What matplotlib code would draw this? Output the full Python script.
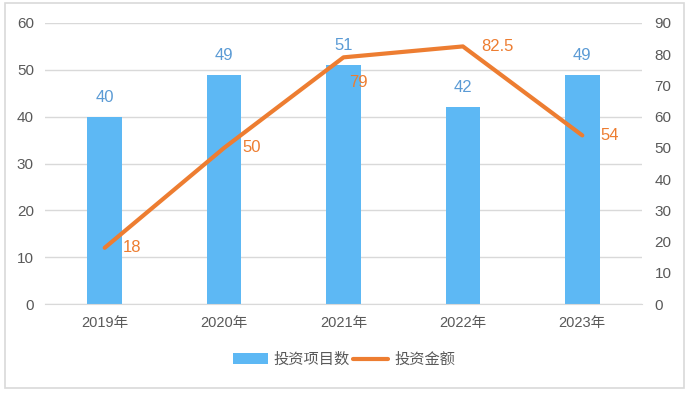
import numpy as np
import matplotlib
matplotlib.use("Agg")
from matplotlib import pyplot as plt
from matplotlib.patches import Rectangle

plt.rcParams['font.family'] = ['Liberation Sans', 'Noto Sans CJK SC', 'DejaVu Sans']

years = ["2019年", "2020年", "2021年", "2022年", "2023年"]
projects = [40, 49, 51, 42, 49]
amounts = [18, 50, 79, 82.5, 54]
amount_labels = ["18", "50", "79", "82.5", "54"]
# label offsets in points (dx, dy) for the line labels
amount_offsets = [(13, 0), (13, 0), (4, -18), (13, 0), (13, 0)]

bar_color = "#5DB8F4"
bar_text = "#5B9BD5"
line_color = "#ED7D31"
grid_color = "#D9D9D9"
tick_color = "#595959"

fig = plt.figure(figsize=(6.88, 3.94), dpi=100)
fig.patches.append(Rectangle((5/688, 1-388/394), 679/688, 385/394, transform=fig.transFigure,
                             fill=False, edgecolor=grid_color, linewidth=1.2))
ax = fig.add_axes([45/688, 1-304/394, 597/688, 281/394])
ax2 = ax.twinx()

x = np.arange(len(years))
bars = ax.bar(x, projects, width=0.29, color=bar_color, label="投资项目数", zorder=2)
for xi, v in zip(x, projects):
    ax.annotate(str(v), (xi, v), xytext=(0, 14), textcoords="offset points",
                ha="center", va="center", color=bar_text, fontsize=12)

line, = ax2.plot(x, amounts, color=line_color, linewidth=3, solid_capstyle="round",
                 label="投资金额", zorder=3)
for xi, v, s, off in zip(x, amounts, amount_labels, amount_offsets):
    ax2.annotate(s, (xi, v), xytext=off, textcoords="offset points",
                 ha="left", va="center", color=line_color, fontsize=12)

ax.set_xlim(-0.5, 4.5)
ax.set_ylim(0, 60)
ax2.set_ylim(0, 90)
ax.set_yticks(np.arange(0, 61, 10))
ax2.set_yticks(np.arange(0, 91, 10))
ax.set_xticks(x)
ax.set_xticklabels(years)

ax.yaxis.grid(True, color=grid_color, linewidth=1, zorder=0)
ax.set_axisbelow(True)
for a in (ax, ax2):
    for sp in a.spines.values():
        sp.set_visible(False)
    a.tick_params(length=0, colors=tick_color, labelsize=11)
ax.spines['bottom'].set_visible(True)
ax.spines['bottom'].set_color(grid_color)
ax.tick_params(axis='x', pad=9, labelsize=10.5)
ax.tick_params(axis='y', pad=8)
ax2.tick_params(axis='y', pad=9)

fig.legend([bars, line], ["投资项目数", "投资金额"], loc="center", bbox_to_anchor=(0.5, 1-360/394),
           ncol=2, frameon=False, fontsize=11, labelcolor=tick_color,
           handlelength=2.3, handletextpad=0.4, columnspacing=0.2)

fig.savefig("out.png", dpi=100)
